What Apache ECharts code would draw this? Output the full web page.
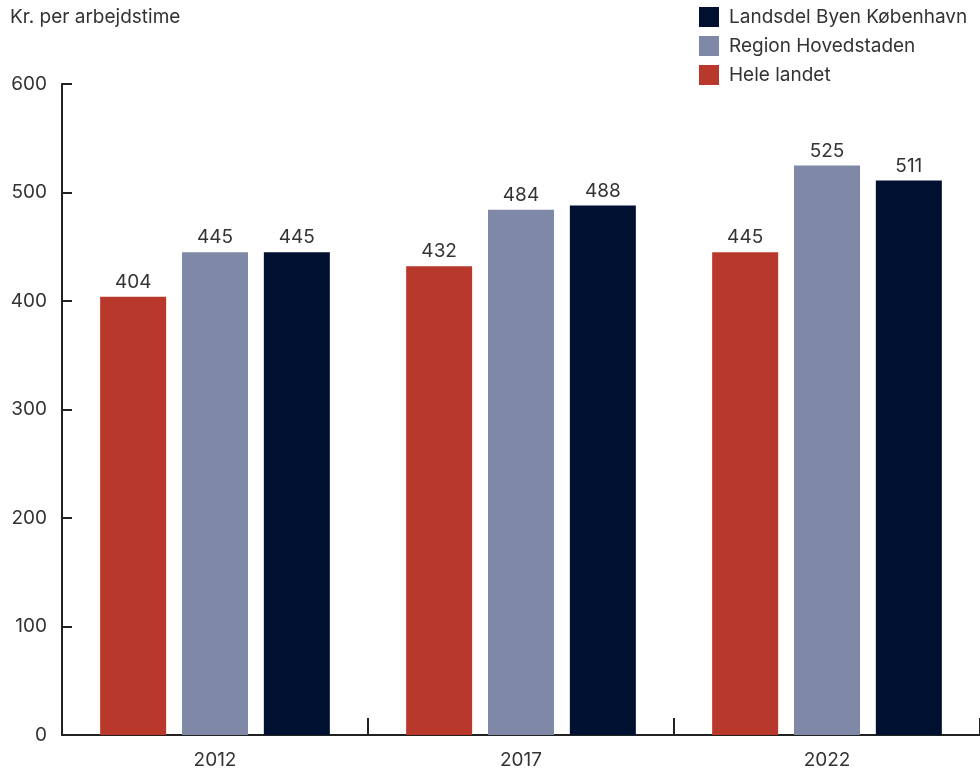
<!DOCTYPE html>
<html><head><meta charset="utf-8">
<script src="https://cdn.jsdelivr.net/npm/echarts@6/dist/echarts.min.js"></script>
<style>html,body{margin:0;padding:0;background:#fff}#c{width:980px;height:772px}</style>
</head><body><div id="c"></div>
<script>
const categories = ['2012', '2017', '2022'];
const seriesNames = ['Hele landet', 'Region Hovedstaden', 'Landsdel Byen København'];
const heleLandet = [404, 432, 445];
const regionHovedstaden = [445, 484, 525];
const byenKobenhavn = [445, 488, 511];
const yTicks = [0, 100, 200, 300, 400, 500, 600];
const colors = ['#B8382C', '#7F88A6', '#001030'];
const FONT = 'Inter';
const FS = 19;
const chart = echarts.init(document.getElementById('c'));
const values = [heleLandet, regionHovedstaden, byenKobenhavn];
chart.setOption({
  animation: false,
  textStyle: {fontFamily: FONT},
  title: {text: 'Kr. per arbejdstime', left: 5, top: 3, textStyle: {fontSize: FS, fontWeight: 'normal', color: '#333', fontFamily: FONT}},
  legend: {
    data: [seriesNames[2], seriesNames[1], seriesNames[0]],
    orient: 'vertical', left: 694, top: 2, itemWidth: 20, itemHeight: 20, itemGap: 9,
    icon: 'rect',
    textStyle: {fontSize: FS, color: '#333', fontFamily: FONT, padding: [0,0,0,5]}
  },
  grid: {left: 62, top: 84, right: -4, bottom: 37, containLabel: false},
  xAxis: {
    type: 'category', data: categories,
    axisLine: {lineStyle: {color: '#222', width: 2}},
    axisTick: {show: true, inside: true, length: 17, lineStyle: {color: '#222', width: 2}},
    axisLabel: {fontSize: FS, color: '#333', margin: 16, fontFamily: FONT}
  },
  yAxis: {
    type: 'value', min: yTicks[0], max: yTicks[yTicks.length-1], interval: 100,
    splitLine: {show: false},
    axisLine: {show: true, lineStyle: {color: '#222', width: 2}},
    axisTick: {show: true, inside: true, length: 10, lineStyle: {color: '#222', width: 2}},
    axisLabel: {fontSize: FS, color: '#333', margin: 15, fontFamily: FONT}
  },
  series: seriesNames.map((n, i) => ({
    name: n, type: 'bar', data: values[i], barWidth: 66, barGap: '24%',
    itemStyle: {color: colors[i]},
    label: {show: true, position: 'top', distance: 5, fontSize: FS, color: '#333', fontFamily: FONT}
  }))
});
</script></body></html>
